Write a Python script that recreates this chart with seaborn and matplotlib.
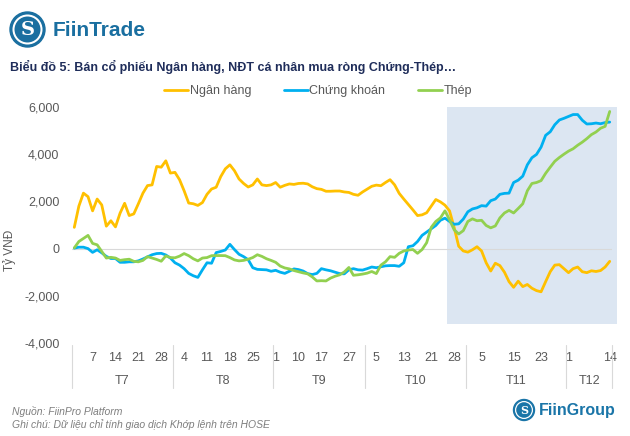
import numpy as np
import pandas as pd
import matplotlib
matplotlib.use('Agg')
import matplotlib.pyplot as plt
import matplotlib.transforms as mtransforms
from matplotlib.patches import Ellipse
import seaborn as sns

# Daily net buying of individual investors (ty VND), Jul - Dec 14
ngan_hang = [900, 1800, 2350, 2200, 1600, 2100, 1850, 950, 1180, 920,
             1500, 1920, 1400, 1470, 1900, 2350, 2670, 2700, 3480, 3450,
             3720, 3200, 3230, 2920, 2450, 1930, 1900, 1830, 1950, 2300,
             2525, 2600, 3050, 3380, 3550, 3300, 2950, 2760, 2610, 2700,
             2950, 2700, 2670, 2700, 2800, 2600, 2680, 2740, 2720, 2760,
             2770, 2740, 2620, 2540, 2510, 2430, 2430, 2440, 2440, 2400,
             2380, 2300, 2260, 2400, 2520, 2640, 2690, 2665, 2800, 2920,
             2700, 2340, 2100, 1870, 1640, 1400, 1430, 1520, 1800, 2080,
             1980, 1840, 1600, 900, 100, -100, -150, -50, 80, -100,
             -600, -950, -620, -720, -1000, -1400, -1640, -1380, -1610, -1520,
             -1680, -1780, -1830, -1400, -980, -700, -680, -850, -1020, -850,
             -780, -980, -1020, -940, -970, -930, -780, -540]

chung_khoan = [20, 60, 60, 0, -160, -50, -180, -330, -420, -420,
               -580, -580, -560, -560, -520, -440, -350, -260, -210, -200,
               -270, -400, -600, -700, -850, -1050, -1150, -1220, -900, -600,
               -620, -170, -120, -60, 180, -40, -240, -340, -470, -810,
               -880, -890, -900, -960, -920, -1000, -1050, -960, -860, -890,
               -950, -1060, -1100, -1050, -850, -900, -940, -1000, -1060, -1070,
               -900, -850, -900, -910, -850, -780, -810, -770, -730, -720,
               -720, -750, -600, 80, 120, 300, 560, 700, 840, 980,
               1200, 1290, 1150, 1030, 1050, 1250, 1560, 1680, 1730, 1820,
               1800, 2030, 2100, 2300, 2340, 2350, 2800, 2900, 3070, 3550,
               3850, 3990, 4300, 4800, 4950, 5250, 5450, 5520, 5600, 5680,
               5680, 5440, 5280, 5290, 5320, 5290, 5340, 5360]

thep = [30, 300, 430, 560, 220, 160, -120, -400, -370, -400,
        -500, -470, -450, -540, -560, -500, -340, -400, -460, -535,
        -310, -380, -390, -320, -210, -300, -430, -520, -400, -380,
        -300, -295, -295, -300, -380, -480, -520, -500, -450, -380,
        -260, -330, -430, -500, -580, -740, -820, -860, -930, -980,
        -1030, -1070, -1200, -1370, -1360, -1370, -1250, -1170, -1110, -990,
        -800, -1130, -1110, -1080, -1040, -970, -1060, -700, -560, -340,
        -370, -200, -100, -60, -40, -200, -40, 250, 900, 1150,
        1300, 1600, 1220, 800, 620, 760, 1150, 1260, 1180, 1200,
        980, 880, 960, 1300, 1510, 1620, 1510, 1700, 1900, 2450,
        2760, 2800, 2880, 3190, 3450, 3700, 3860, 4000, 4130, 4230,
        4380, 4510, 4660, 4830, 4940, 5100, 5180, 5810]

series_names = ['Ngân hàng', 'Chứng khoán', 'Thép']
series_colors = ['#FFC000', '#00B0F0', '#92D050']

# x-axis: day labels and month groups (index of trading day)
day_labels = ['7', '14', '21', '28', '4', '11', '18', '25', '1', '10', '17', '27',
              '5', '13', '21', '28', '5', '15', '23', '1', '14']
day_pos = [4, 9, 14, 19, 24, 29, 34, 39, 44, 49, 54, 60,
           66, 72, 78, 83, 89, 96, 102, 108, 117]
months = ['T7', 'T8', 'T9', 'T10', 'T11', 'T12']
month_bounds = [-0.5, 21.5, 43.5, 63.5, 85.5, 107.5, 117.5]

df = pd.DataFrame({'idx': np.arange(len(ngan_hang)),
                   'Ngân hàng': ngan_hang,
                   'Chứng khoán': chung_khoan,
                   'Thép': thep})
df_long = df.melt(id_vars='idx', var_name='series', value_name='value')

sns.set_style('white')
plt.rcParams['font.family'] = ['Liberation Sans', 'DejaVu Sans']

W, H = 630, 436
fig = plt.figure(figsize=(6.3, 4.36), dpi=100)
ax = fig.add_axes([72 / W, 1 - 343 / H, 540 / W, 236 / H])

# highlighted period
ax.fill_between([81.45, 118.6], -3200, 6000, color='#dce6f2', lw=0,
                zorder=0, clip_on=False)
ax.axhline(0, color='#d9d9d9', lw=0.8, zorder=1)

sns.lineplot(data=df_long, x='idx', y='value', hue='series',
             hue_order=series_names, palette=series_colors,
             linewidth=2, ax=ax, zorder=3)

ax.set_xlim(-0.5, 117.5)
ax.set_ylim(-4000, 6000)
ax.set_yticks([-4000, -2000, 0, 2000, 4000, 6000])
ax.set_yticklabels([f'{v:,}' for v in [-4000, -2000, 0, 2000, 4000, 6000]])
ax.set_xticks(day_pos)
ax.set_xticklabels(day_labels)
ax.tick_params(axis='y', length=0, pad=9, labelsize=9, labelcolor='#595959')
ax.tick_params(axis='x', length=0, pad=6.5, labelsize=9, labelcolor='#595959')
ax.set_xlabel('')
ax.set_ylabel('')
for s in ax.spines.values():
    s.set_visible(False)

# month group labels and separators below the axis
trans = mtransforms.blended_transform_factory(ax.transData, ax.transAxes)
for i, m in enumerate(months):
    mid = (month_bounds[i] + month_bounds[i + 1]) / 2
    ax.text(mid, -0.161, m, transform=trans, ha='center', va='center',
            fontsize=9, color='#595959')
for b in month_bounds:
    ax.plot([b, b], [-0.008, -0.19], transform=trans, color='#d9d9d9',
            lw=0.8, clip_on=False)

# legend
handles, labels = ax.get_legend_handles_labels()
ax.get_legend().remove()
fig.legend(handles, labels, loc='center', bbox_to_anchor=(0.505, 1 - 91 / H),
           ncol=3, frameon=False, fontsize=9, handlelength=1.9,
           handletextpad=0.15, columnspacing=2.6, labelcolor='#595959')

fig.text(10 / W, 1 - 250 / H, 'Tỷ VNĐ', rotation=90, ha='center',
         va='center', fontsize=8.5, color='#595959')


def logo(cx, cy, r, color, size):
    # round badge with a white ring and an S
    fig.patches.append(Ellipse((cx / W, 1 - cy / H), 2 * r / W, 2 * r / H,
                               transform=fig.transFigure, color=color))
    fig.patches.append(Ellipse((cx / W, 1 - cy / H), 1.6 * r / W, 1.6 * r / H,
                               transform=fig.transFigure, fill=False,
                               ec='white', lw=r / 12))
    fig.text(cx / W, 1 - (cy + 0.5) / H, 'S', fontsize=size, fontweight='bold',
             color='white', ha='center', va='center', family='DejaVu Serif')


# header
logo(27.5, 29.5, 17.5, '#1a6fa0', 14)
fig.text(53 / W, 1 - 30 / H, 'FiinTrade', fontsize=15, fontweight='bold',
         color='#1a6fa0', va='center')
fig.text(10 / W, 1 - 67 / H,
         'Biểu đồ 5: Bán cổ phiếu Ngân hàng, NĐT cá nhân mua ròng Chứng-Thép…',
         fontsize=9, fontweight='bold', color='#1f2d5a', va='center')

# footer
fig.text(12 / W, 1 - 411 / H, 'Nguồn: FiinPro Platform', fontsize=7.5,
         style='italic', color='#7f7f7f', va='center')
fig.text(12 / W, 1 - 425 / H,
         'Ghi chú: Dữ liệu chỉ tính giao dịch Khớp lệnh trên HOSE',
         fontsize=7.5, style='italic', color='#7f7f7f', va='center')
logo(524, 410, 10.5, '#1a75a8', 8)
fig.text(539 / W, 1 - 410 / H, 'FiinGroup', fontsize=11.5,
         fontweight='bold', color='#1a75a8', va='center')

fig.savefig('out.png', dpi=100)
